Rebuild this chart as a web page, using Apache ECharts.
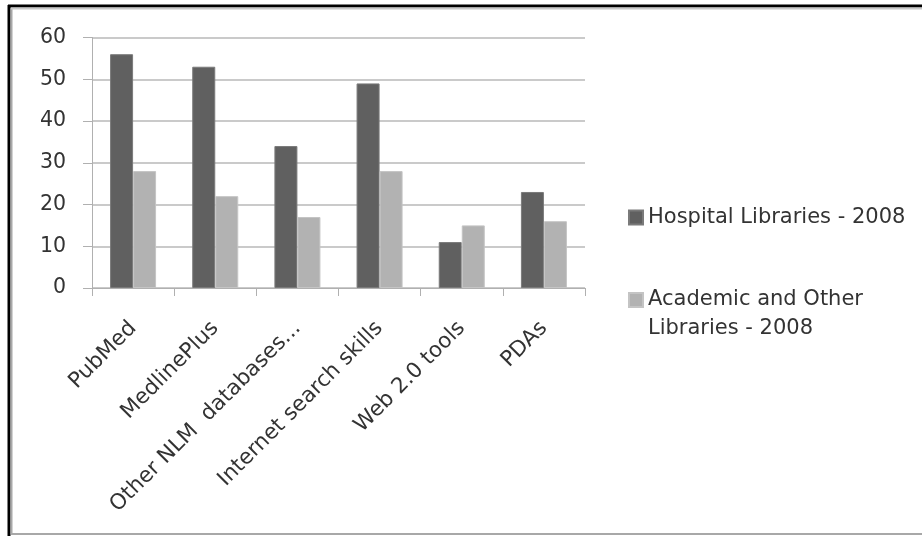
<!DOCTYPE html>
<html>
<head>
<meta charset="utf-8">
<script src="https://cdn.jsdelivr.net/npm/echarts@6/dist/echarts.min.js"></script>
<style>
html,body{margin:0;padding:0;background:#fff;}
#c{width:922px;height:536px;}
</style>
</head>
<body>
<div id="c"></div>
<script>
const categories = ['PubMed', 'MedlinePlus', 'Other NLM  databases...', 'Internet search skills', 'Web 2.0 tools', 'PDAs'];
const hospitalName = 'Hospital Libraries - 2008';
const academicName = 'Academic and Other Libraries - 2008';
const academicLegendLines = ['Academic and Other', 'Libraries - 2008'];
const hospital = [56, 53, 34, 49, 11, 23];
const academic = [28, 22, 17, 28, 15, 16];
const yTicks = { min: 0, max: 60, interval: 10 };

const FONT = 'DejaVu Sans';
const TXT = '#333333';
const chart = echarts.init(document.getElementById('c'), null, { renderer: 'canvas' });
chart.setOption({
  animation: false,
  backgroundColor: '#ffffff',
  textStyle: { fontFamily: FONT },
  grid: { left: 92, right: 337, top: 37.5, bottom: 248, containLabel: false },
  xAxis: {
    type: 'category',
    data: categories,
    axisLine: { lineStyle: { color: '#b0b0b0', width: 1 } },
    axisTick: { show: true, length: 8, alignWithLabel: false, lineStyle: { color: '#b0b0b0' } },
    axisLabel: { rotate: 45, interval: 0, margin: 37, color: TXT, fontFamily: FONT, fontSize: 21.5 }
  },
  yAxis: {
    type: 'value',
    min: yTicks.min, max: yTicks.max, interval: yTicks.interval,
    axisLine: { show: true, lineStyle: { color: '#b0b0b0', width: 1 } },
    axisTick: { show: true, length: 9, lineStyle: { color: '#b0b0b0' } },
    axisLabel: { margin: 26, color: TXT, fontFamily: FONT, fontSize: 20.5 },
    splitLine: { show: true, lineStyle: { color: '#b8b8b8', width: 1.5 } }
  },
  legend: [
    {
      data: [hospitalName],
      orient: 'vertical', left: 628, top: 203, padding: 0,
      itemWidth: 14, itemHeight: 14, icon: 'rect',
      textStyle: { color: TXT, fontFamily: FONT, fontSize: 21, lineHeight: 29 },
      selectedMode: false
    },
    {
      data: [academicName],
      orient: 'vertical', left: 628, top: 256.5, padding: 0,
      itemWidth: 14, itemHeight: 14, icon: 'rect',
      formatter: function () { return '\n' + academicLegendLines.join('\n'); },
      textStyle: { color: TXT, fontFamily: FONT, fontSize: 21, lineHeight: 29 },
      selectedMode: false
    }
  ],
  series: [
    {
      name: hospitalName, type: 'bar', data: hospital,
      barGap: '0%', barCategoryGap: '44%',
      itemStyle: { color: '#606060', borderColor: '#7a7a7a', borderWidth: 1 }
    },
    {
      name: academicName, type: 'bar', data: academic,
      barGap: '0%', barCategoryGap: '44%',
      itemStyle: { color: '#b2b2b2', borderColor: '#c4c4c4', borderWidth: 1 }
    }
  ],
  graphic: [
    { type: 'line', shape: { x1: 9, y1: 5, x2: 9, y2: 536 }, style: { stroke: '#000', lineWidth: 3 } },
    { type: 'line', shape: { x1: 8, y1: 6, x2: 922, y2: 6 }, style: { stroke: '#000', lineWidth: 3 } },
    { type: 'line', shape: { x1: 11.5, y1: 8.5, x2: 11.5, y2: 534 }, style: { stroke: '#a8a8a8', lineWidth: 2 } },
    { type: 'line', shape: { x1: 11, y1: 8.5, x2: 922, y2: 8.5 }, style: { stroke: '#c8c8c8', lineWidth: 2 } },
    { type: 'line', shape: { x1: 11, y1: 534, x2: 922, y2: 534 }, style: { stroke: '#a8a8a8', lineWidth: 2 } }
  ]
});
</script>
</body>
</html>
